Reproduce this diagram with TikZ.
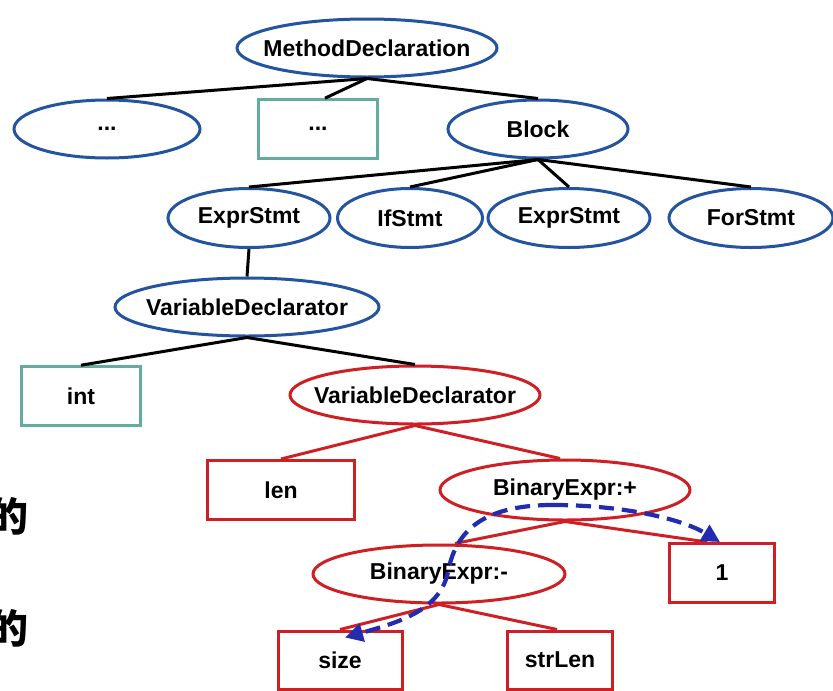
\documentclass[tikz,border=0pt]{standalone}
\usepackage{fontspec}
\setmainfont{Liberation Sans}
\newfontfamily\cjk{Noto Sans CJK SC}
\usetikzlibrary{shapes.geometric,arrows.meta}
\definecolor{nodeblue}{RGB}{36,84,160}
\definecolor{leafteal}{RGB}{100,172,158}
\definecolor{pathred}{RGB}{206,32,36}
\definecolor{flowblue}{RGB}{34,44,176}
\tikzset{
  lbl/.style={font=\bfseries\fontsize{23}{25}\selectfont, text=black, inner sep=0pt},
  bell/.style={lbl, ellipse, inner xsep=-16pt, draw=nodeblue, line width=3pt},
  rell/.style={lbl, ellipse, inner xsep=-16pt, draw=pathred, line width=3pt},
  tbox/.style={lbl, rectangle, draw=leafteal, line width=2.6pt},
  rbox/.style={lbl, rectangle, draw=pathred, line width=3pt},
  edge/.style={line width=3pt, draw=black},
  redge/.style={line width=3pt, draw=pathred},
  flow/.style={line width=4.2pt, draw=flowblue, dash pattern=on 15pt off 8pt,
    -{Triangle[length=18pt,width=18pt]}},
}
\begin{document}
\begin{tikzpicture}[x=1pt,y=-1pt]
\useasboundingbox (0,0) rectangle (833,691);
\fill[white] (0,0) rectangle (833,691);

% root and first level
\node[bell, minimum width=260pt, minimum height=58pt] (md) at (367,48) {MethodDeclaration};
\node[bell, minimum width=186pt, minimum height=58pt] (dots1) at (107,129) {...};
\node[tbox, minimum width=119pt, minimum height=59pt] (dots2) at (318,129) {...};
\node[bell, minimum width=180pt, minimum height=58pt] (block) at (538,129) {Block};

% statements
\node[bell, minimum width=162pt, minimum height=59pt] (es1) at (249,218) {ExprStmt};
\node[bell, minimum width=145pt, minimum height=59pt] (ifs) at (410,218) {IfStmt};
\node[bell, minimum width=162pt, minimum height=59pt] (es2) at (569,218) {ExprStmt};
\node[bell, minimum width=164pt, minimum height=59pt] (fors) at (751,218) {ForStmt};

% declaration subtree
\node[bell, minimum width=264pt, minimum height=58pt] (vd1) at (247,307) {VariableDeclarator};
\node[tbox, minimum width=119pt, minimum height=59pt] (int) at (81,396) {int};
\node[rell, minimum width=250pt, minimum height=58pt] (vd2) at (415,395) {VariableDeclarator};
\node[rbox, minimum width=147pt, minimum height=59pt] (len) at (281,490) {len};
\node[rell, minimum width=250pt, minimum height=60pt] (bplus) at (565,490) {BinaryExpr:+};
\node[rell, minimum width=252pt, minimum height=58pt] (bminus) at (439,574) {BinaryExpr:-};
\node[rbox, minimum width=105pt, minimum height=59pt] (one) at (722,573) {1};
\node[rbox, minimum width=124pt, minimum height=58pt] (size) at (340,660) {size};
\node[rbox, minimum width=105pt, minimum height=58pt] (strlen) at (560,660) {strLen};

% tree edges
\draw[edge] (md.south) -- (dots1.north);
\draw[edge] (md.south) -- ([xshift=7pt]dots2.north);
\draw[edge] (md.south) -- (block.north);
\draw[edge] (block.south) -- (es1.north);
\draw[edge] (block.south) -- (ifs.north);
\draw[edge] (block.south) -- (es2.north);
\draw[edge] (block.south) -- (fors.north);
\draw[edge] (es1.south) -- (vd1.north);
\draw[edge] (vd1.south) -- (int.north);
\draw[edge] (vd1.south) -- (vd2.north);
\draw[redge] (vd2.south) -- (len.north);
\draw[redge] (vd2.south) -- ([xshift=-5pt]bplus.north);
\draw[redge] (bplus.south) -- ([xshift=16pt]bminus.north);
\draw[redge] (bplus.south) -- ([xshift=-15pt]one.north);
\draw[redge] (bminus.south) -- (size.north);
\draw[redge] (bminus.south) -- ([xshift=-3pt]strlen.north);

% evaluation flow
\coordinate (apex) at (553,505);
\draw[flow] (apex) .. controls (478,505) and (455,535) .. (448,572)
  .. controls (440,610) and (400,622) .. ([xshift=5pt,yshift=-8pt]size.north);
\draw[flow] (apex) .. controls (620,505) and (680,518) .. ([xshift=-2pt]one.north);

% characters at the left margin
\node[anchor=east, inner sep=0pt, font=\cjk\bfseries\fontsize{40}{40}\selectfont] (c1) at (29,516) {的};
\node[anchor=east, inner sep=0pt, font=\cjk\bfseries\fontsize{40}{40}\selectfont] (c2) at (29,628) {的};
\end{tikzpicture}
\end{document}
